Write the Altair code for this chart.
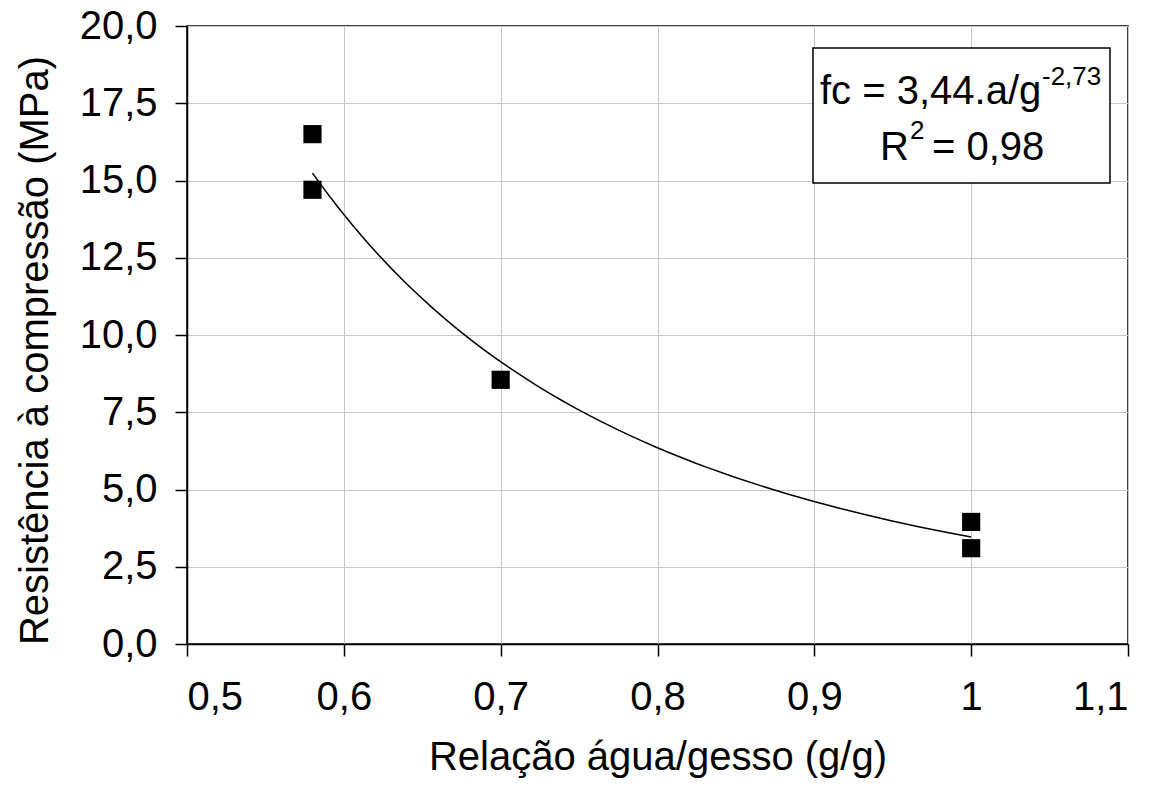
import altair as alt
import pandas as pd

# Data
agua_gesso = [0.58, 0.58, 0.70, 1.00, 1.00]
resistencia = [16.5, 14.7, 8.55, 3.95, 3.10]
x_ticks = [0.5, 0.6, 0.7, 0.8, 0.9, 1.0, 1.1]
y_ticks = [0.0, 2.5, 5.0, 7.5, 10.0, 12.5, 15.0, 17.5, 20.0]
eq_main = "fc = 3,44.a/g"
eq_exp = "-2,73"
r2_main = "R"
r2_exp = "2"
r2_rest = "= 0,98"

df = pd.DataFrame({"x": agua_gesso, "y": resistencia})
FONT = "Liberation Sans"

xs = alt.X("x:Q", scale=alt.Scale(domain=[0.5, 1.1], nice=False, zero=False),
           axis=alt.Axis(values=x_ticks, title="Relação água/gesso (g/g)",
                         labelExpr="replace(format(datum.value, '.1~f'), '.', ',')"))
ys = alt.Y("y:Q", scale=alt.Scale(domain=[0, 20], nice=False),
           axis=alt.Axis(values=y_ticks, title="Resistência à compressão (MPa)",
                         titleY=324,
                         labelExpr="replace(format(datum.value, '.1f'), '.', ',')"))

points = alt.Chart(df).mark_square(size=330, color="black", opacity=1).encode(x=xs, y=ys)

curve = alt.Chart(df).transform_regression(
    "x", "y", method="pow", extent=[0.58, 1.0]
).mark_line(color="black", strokeWidth=1.5).encode(x="x:Q", y="y:Q")

one = alt.Data(values=[{}])
box = alt.Chart(one).mark_rect(fill="white", stroke="black", strokeWidth=1.5).encode(
    x=alt.value(626), x2=alt.value(923), y=alt.value(22), y2=alt.value(157))

def txt(s, x, y, size):
    return alt.Chart(one).mark_text(text=s, align="left", baseline="alphabetic",
                                    font=FONT, fontSize=size, color="black").encode(
        x=alt.value(x), y=alt.value(y))

texts = [
    txt(eq_main, 633, 78, 40),
    txt(eq_exp, 855, 59, 26),
    txt(r2_main, 693, 134, 40),
    txt(r2_exp, 723, 113, 26),
    txt(r2_rest, 745, 134, 40),
]

chart = alt.layer(points, curve, box, *texts).properties(
    width=941, height=618,
    autosize=alt.AutoSizeParams(type="none"),
    padding={"left": 179, "top": 18, "right": 20, "bottom": 137},
).configure_view(
    stroke="black", strokeWidth=1.5
).configure_axis(
    domainColor="black", domainWidth=1.5,
    tickColor="black", tickSize=12, tickWidth=1.5,
    gridColor="#c8c8c8", gridWidth=1,
    labelFont=FONT, labelFontSize=40, labelColor="black",
    titleFont=FONT, titleFontSize=40, titleColor="black", titleFontWeight="normal",
).configure_axisX(
    labelPadding=21, titlePadding=20,
).configure_axisY(
    labelPadding=18, titlePadding=24,
)

chart.save("out.html", embed_options={"renderer": "svg", "actions": False})
